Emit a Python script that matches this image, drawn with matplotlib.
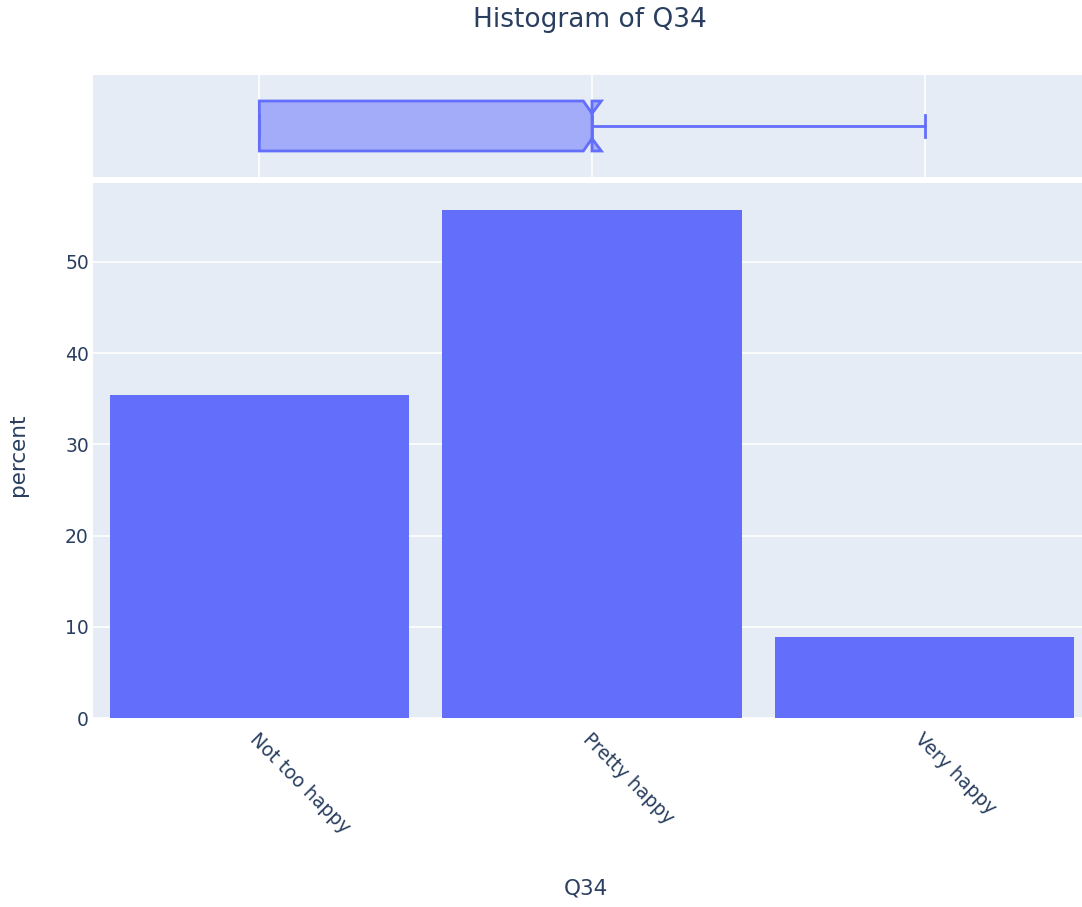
import matplotlib
matplotlib.use("Agg")
import matplotlib.pyplot as plt
import numpy as np

categories = ["Not too happy", "Pretty happy", "Very happy"]
percents = [35.4, 55.7, 8.9]
# box plot stats (category index units)
box_q1, box_med, box_q3 = 0, 1, 1
box_lo, box_hi = 0, 2
notch_lo, notch_hi = 0.974, 1.028

BG = "#E5ECF6"
BAR = "#636EFA"
TXT = "#2a3f5f"
FONT = ["DejaVu Sans"]
plt.rcParams["font.family"] = FONT

W, H = 1082, 907
fig = plt.figure(figsize=(W / 100, H / 100), dpi=100)

x0, x1 = 93, 1091
ax = fig.add_axes([x0 / W, (H - 718) / H, (x1 - x0) / W, (718 - 183) / H])
axb = fig.add_axes([x0 / W, (H - 177) / H, (x1 - x0) / W, (177 - 75) / H])

for a in (ax, axb):
    a.set_facecolor(BG)
    for s in a.spines.values():
        s.set_visible(False)
    a.set_axisbelow(True)

xpos = np.arange(len(categories))
ax.bar(xpos, percents, width=0.9, color=BAR, zorder=3)
ax.set_xlim(-0.5, len(categories) - 0.5)
ax.set_ylim(0, 58.66)
ax.set_yticks([0, 10, 20, 30, 40, 50])
ax.yaxis.grid(True, color="white", linewidth=1.2)
ax.tick_params(axis="y", length=0, labelsize=13.5, labelcolor=TXT, pad=3)
ax.tick_params(axis="x", length=0, labelsize=13.5, labelcolor=TXT, pad=8)
ax.set_xticks(xpos)
ax.set_xticklabels(categories, rotation=-45, ha="left", va="top", rotation_mode="anchor")

ax.set_xlabel("Q34", fontsize=15.5, color=TXT)
ax.xaxis.label.set_va("center")
ax.xaxis.set_label_coords(0.494, -0.318)
ax.set_ylabel("percent", fontsize=15.5, color=TXT)
ax.yaxis.label.set_va("center")
ax.yaxis.set_label_coords(-0.075, 0.4916)

stats = [{
    "med": box_med, "q1": box_q1, "q3": box_q3,
    "whislo": box_lo, "whishi": box_hi,
    "cilo": notch_lo, "cihi": notch_hi, "fliers": [],
}]
axb.bxp(stats, positions=[0], widths=0.98, orientation="horizontal", shownotches=True,
        patch_artist=True, showfliers=False, capwidths=[0.43],
        boxprops=dict(facecolor=(0.388, 0.431, 0.980, 0.5), edgecolor=BAR, linewidth=2),
        medianprops=dict(color=BAR, linewidth=2),
        whiskerprops=dict(color=BAR, linewidth=2),
        capprops=dict(color=BAR, linewidth=2))
axb.set_xlim(-0.5, len(categories) - 0.5)
axb.set_ylim(-1, 1)
axb.set_xticks(xpos)
axb.set_yticks([])
axb.xaxis.grid(True, color="white", linewidth=1.2)
axb.tick_params(axis="x", length=0, labelbottom=False)

fig.text(590 / W, 1 - 20 / H, "Histogram of Q34", ha="center", va="center",
         fontsize=19, color=TXT)

fig.savefig("out.png", dpi=100)
